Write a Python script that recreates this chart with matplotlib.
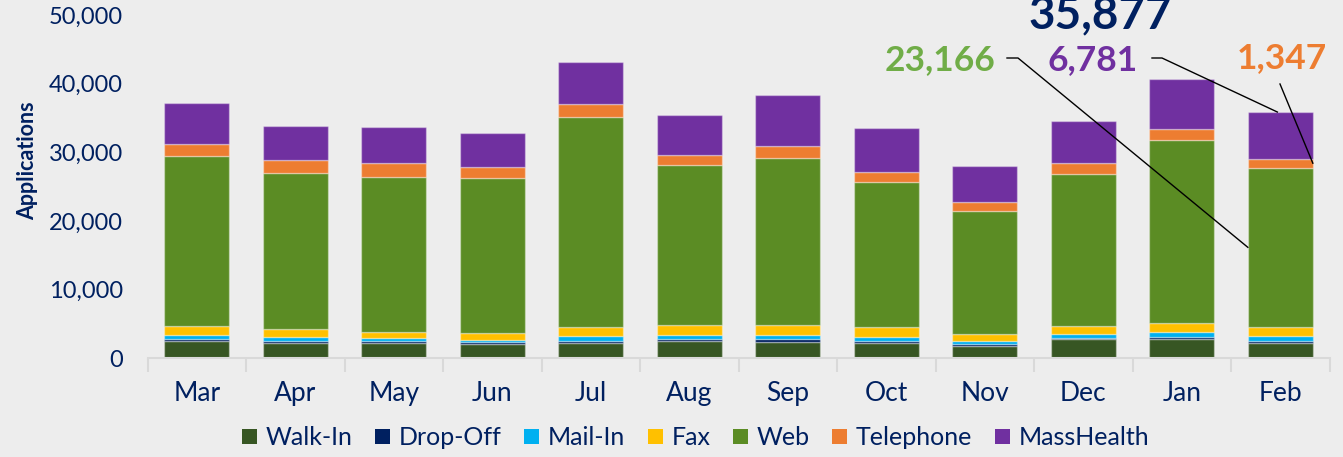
import numpy as np
import matplotlib.pyplot as plt
from matplotlib.lines import Line2D
from matplotlib.patches import Patch

months = ['Mar', 'Apr', 'May', 'Jun', 'Jul', 'Aug', 'Sep', 'Oct', 'Nov', 'Dec', 'Jan', 'Feb']

walk_in   = [2570, 2280, 2240, 2135, 2190, 2575, 2430, 2280, 1840, 2780, 2780, 2283]
drop_off  = [250, 250, 335, 250, 335, 290, 395, 290, 250, 235, 380, 290]
mail_in   = [540, 585, 395, 335, 730, 585, 630, 585, 480, 585, 645, 690]
fax       = [1310, 1125, 875, 935, 1360, 1460, 1375, 1375, 980, 1170, 1400, 1320]
web       = [24800, 22810, 22560, 22600, 30470, 23300, 24415, 21100, 17880, 22080, 26610, 23166]
telephone = [1710, 1800, 2000, 1565, 1900, 1400, 1650, 1565, 1317, 1610, 1520, 1347]
masshealth = [5950, 4970, 5220, 5070, 6230, 5900, 7410, 6375, 5218, 6100, 7310, 6781]

series_names = ['Walk-In', 'Drop-Off', 'Mail-In', 'Fax', 'Web', 'Telephone', 'MassHealth']
series_vals = [walk_in, drop_off, mail_in, fax, web, telephone, masshealth]
series_cols = ['#375623', '#002060', '#00B0F0', '#FFC000', '#5B8C24', '#ED7D31', '#7030A0']

navy = '#002060'
bg = '#EDEDED'
plt.rcParams['font.family'] = ['Lato', 'DejaVu Sans']

fig = plt.figure(figsize=(13.43, 4.57), dpi=100, facecolor=bg)
ax = fig.add_axes([0.110, 0.216, 0.880, 0.751])
ax.set_facecolor(bg)

x = np.arange(len(months))
w = 0.66
bottom = np.zeros(len(months))
for name, vals, col in zip(series_names, series_vals, series_cols):
    ax.bar(x, vals, w, bottom=bottom, color=col, edgecolor=(1, 1, 1, 0.35), linewidth=1, label=name)
    bottom += np.array(vals)

ax.set_xlim(-0.5, len(months) - 0.5)
ax.set_ylim(0, 50000)
ax.set_yticks(range(0, 50001, 10000))
ax.set_yticklabels([f'{v:,}' for v in range(0, 50001, 10000)], color=navy, fontsize=17)
ax.tick_params(axis='y', length=0, pad=18)

ax.set_xticks(x)
ax.set_xticklabels(months, color=navy, fontsize=19)
ax.set_xticks(np.arange(-0.5, len(months)), minor=True)
ax.tick_params(axis='x', which='major', length=0, pad=16)
ax.tick_params(axis='x', which='minor', length=10, width=1.5, color='#D9D9D9', direction='out')

for s in ['top', 'right', 'left']:
    ax.spines[s].set_visible(False)
ax.spines['bottom'].set_color('#D9D9D9')
ax.spines['bottom'].set_linewidth(1.5)

ax.set_ylabel('Applications', color=navy, fontsize=15.5, fontweight='bold')
ax.yaxis.set_label_coords(-0.093, 0.575)

handles = [Patch(facecolor=c, edgecolor='none') for c in series_cols]
fig.legend(handles, series_names, loc='center', bbox_to_anchor=(0.518, 0.042), ncol=7,
           frameon=False, fontsize=18, labelcolor=navy, handlelength=0.6, handleheight=0.6,
           handletextpad=0.35, columnspacing=0.9)

# callouts for the last month
fi = len(months) - 1
low = walk_in[fi] + drop_off[fi] + mail_in[fi] + fax[fi]
total = low + web[fi] + telephone[fi] + masshealth[fi]


def fig_xy(px, py):
    return px / 1343, 1 - py / 457


def data_to_fig(xd, yd):
    return fig.transFigure.inverted().transform(ax.transData.transform((xd, yd)))


fig.text(*fig_xy(1100, 28), f'{total:,}', color=navy, fontsize=33, fontweight='bold',
         ha='center', va='baseline')
fig.text(*fig_xy(940, 60), f'{web[fi]:,}', color='#70AD47', fontsize=25.5, fontweight='bold',
         ha='center', va='center')
fig.text(*fig_xy(1093, 60), f'{masshealth[fi]:,}', color='#7030A0', fontsize=25.5, fontweight='bold',
         ha='center', va='center')
fig.text(*fig_xy(1282, 58), f'{telephone[fi]:,}', color='#ED7D31', fontsize=25.5, fontweight='bold',
         ha='center', va='center')

t1 = data_to_fig(fi - w / 2, low + web[fi] / 2)
p0, p1 = fig_xy(1007, 58), fig_xy(1018, 58)
fig.add_artist(Line2D([p0[0], p1[0], t1[0]], [p0[1], p1[1], t1[1]], color='black', lw=1, transform=fig.transFigure))

t2 = data_to_fig(fi - 0.03, total)
p0, p1 = fig_xy(1152, 58), fig_xy(1162, 58)
fig.add_artist(Line2D([p0[0], p1[0], t2[0]], [p0[1], p1[1], t2[1]], color='black', lw=1, transform=fig.transFigure))

t3 = data_to_fig(fi + w / 2, low + web[fi] + telephone[fi] / 2)
p0 = fig_xy(1280, 84)
fig.add_artist(Line2D([p0[0], t3[0]], [p0[1], t3[1]], color='black', lw=1, transform=fig.transFigure))

plt.savefig('out.png', dpi=100, facecolor=bg)
